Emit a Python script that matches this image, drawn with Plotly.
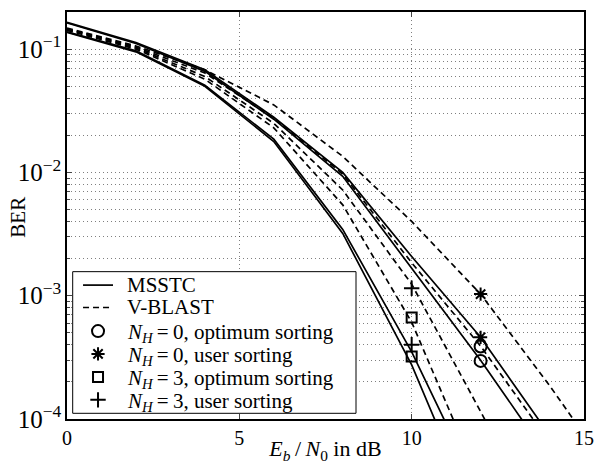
import plotly.graph_objects as go

# Eb/N0 grid (dB)
snr = [0, 2, 4, 6, 8, 10, 12, 14, 16]

# MSSTC (solid)
msstc_nh3_opt  = [0.137, 0.095, 0.050, 0.0178, 0.0032, 2.75e-4, 1.3e-5, None, None]
msstc_nh3_user = [0.138, 0.097, 0.051, 0.0186, 0.00345, 3.5e-4, 2.4e-5, None, None]
msstc_nh0_opt  = [0.163, 0.111, 0.066, 0.027, 0.0093, 1.67e-3, 3.0e-4, 4.7e-5, None]
msstc_nh0_user = [0.165, 0.113, 0.068, 0.028, 0.0100, 2.08e-3, 4.6e-4, 7.4e-5, None]

# V-BLAST (dashed)
vblast_nh3_opt  = [0.142, 0.100, 0.057, 0.023, 0.00546, 6.1e-4, 3.0e-5, None, None]
vblast_nh3_user = [0.145, 0.102, 0.060, 0.025, 0.0072, 1.24e-3, 1.15e-4, 1.0e-5, None]
vblast_nh0_opt  = [0.146, 0.104, 0.064, 0.0275, 0.0097, 1.85e-3, 3.9e-4, 6.5e-5, None]
vblast_nh0_user = [0.148, 0.106, 0.068, 0.0353, 0.0135, 4.0e-3, 1.03e-3, 1.87e-4, 3.0e-5]

# Marker points
circ_x, circ_y = [12, 12], [3.87e-4, 2.96e-4]
star_x, star_y = [12, 12], [1.03e-3, 4.6e-4]
sq_x, sq_y = [10, 10], [6.65e-4, 3.21e-4]
plus_x, plus_y = [10, 10], [1.15e-3, 4.0e-4]

# Legend labels
legend_labels = [
    "MSSTC",
    "V-BLAST",
    "<i>N<sub>H</sub></i>\u2009=\u20090, optimum sorting",
    "<i>N<sub>H</sub></i>\u2009=\u20090, user sorting",
    "<i>N<sub>H</sub></i>\u2009=\u20093, optimum sorting",
    "<i>N<sub>H</sub></i>\u2009=\u20093, user sorting",
]

FONT = "Liberation Serif"
fig = go.Figure()

solid = dict(color="black", width=1.7)
dashed = dict(color="black", width=1.7, dash="6px,4px")

for ys in [msstc_nh3_opt, msstc_nh3_user, msstc_nh0_opt, msstc_nh0_user]:
    fig.add_trace(go.Scatter(x=snr, y=ys, mode="lines", line=solid,
                             showlegend=False, connectgaps=False))
for ys in [vblast_nh3_opt, vblast_nh3_user, vblast_nh0_opt, vblast_nh0_user]:
    fig.add_trace(go.Scatter(x=snr, y=ys, mode="lines", line=dashed,
                             showlegend=False, connectgaps=False))

mk = dict(color="black", line=dict(color="black", width=2))
sym = [("circle-open", 12), ("asterisk-open", 11), ("square-open", 10), ("cross-thin-open", 11)]
for (s, sz), xs, ys in zip(sym, [circ_x, star_x, sq_x, plus_x], [circ_y, star_y, sq_y, plus_y]):
    fig.add_trace(go.Scatter(x=xs, y=ys, mode="markers",
                             marker=dict(symbol=s, size=sz, **mk), showlegend=False))

# ---- legend drawn on an overlay axis spanning the plot area (0..1) ----
box_x0, box_x1, box_y0, box_y1 = 0.011, 0.559, 0.014, 0.362
row_y = [0.329, 0.274, 0.216, 0.160, 0.103, 0.047]
samp_x0, samp_x1, mark_x, text_x = 0.031, 0.089, 0.060, 0.112

fig.add_trace(go.Scatter(x=[box_x0, box_x1, box_x1, box_x0, box_x0],
                         y=[box_y0, box_y0, box_y1, box_y1, box_y0],
                         mode="lines", fill="toself", fillcolor="white",
                         line=dict(color="black", width=1),
                         xaxis="x2", yaxis="y2", showlegend=False, hoverinfo="skip"))
fig.add_trace(go.Scatter(x=[samp_x0, samp_x1], y=[row_y[0]] * 2, mode="lines", line=solid,
                         xaxis="x2", yaxis="y2", showlegend=False, hoverinfo="skip"))
fig.add_trace(go.Scatter(x=[samp_x0, samp_x1], y=[row_y[1]] * 2, mode="lines", line=dashed,
                         xaxis="x2", yaxis="y2", showlegend=False, hoverinfo="skip"))
for (s, sz), ry in zip(sym, row_y[2:]):
    fig.add_trace(go.Scatter(x=[mark_x], y=[ry], mode="markers",
                             marker=dict(symbol=s, size=sz, **mk),
                             xaxis="x2", yaxis="y2", showlegend=False, hoverinfo="skip"))

annos = []
for i, (lab, ry) in enumerate(zip(legend_labels, row_y)):
    off = 0 if i < 2 else -2
    annos.append(dict(x=text_x, y=ry, xref="paper", yref="paper", text=lab,
                      showarrow=False, xanchor="left", yanchor="middle", yshift=off,
                      font=dict(family=FONT, size=21, color="black")))
# y-axis title placed explicitly
annos.append(dict(x=-0.0948, y=0.497, xref="paper", yref="paper", text="BER",
                  textangle=-90, showarrow=False, xanchor="center", yanchor="middle",
                  font=dict(family=FONT, size=21, color="black")))

GRIDC = "rgba(0,0,0,0.5)"
grid = dict(showgrid=True, gridcolor=GRIDC, griddash="1px,3px", gridwidth=1)

fig.update_layout(
    template="none",
    width=594, height=464,
    margin=dict(l=67, r=10, t=12, b=45, autoexpand=False),
    paper_bgcolor="white", plot_bgcolor="white",
    font=dict(family=FONT, size=20, color="black"),
    showlegend=False,
    annotations=annos,
    xaxis=dict(range=[0, 15], dtick=5, tick0=0, ticks="inside", ticklen=5,
               showline=True, linecolor="black", linewidth=1.5, mirror="ticks",
               zeroline=False, automargin=False,
               tickfont=dict(family=FONT, size=20),
               title=dict(text="<i>E<sub>b</sub></i>\u2009/\u2009<i>N</i><sub>0</sub> in dB",
                          font=dict(family=FONT, size=22), standoff=1),
               **grid),
    yaxis=dict(type="log", range=[-4, -0.699], dtick=1, exponentformat="power",
               ticks="inside", ticklen=5,
               showline=True, linecolor="black", linewidth=1.5, mirror="ticks",
               zeroline=False, automargin=False,
               tickfont=dict(family=FONT, size=20),
               minor=dict(dtick="D1", ticks="inside", ticklen=3,
                          showgrid=True, gridcolor=GRIDC,
                          griddash="1px,3px", gridwidth=1),
               **grid),
    xaxis2=dict(overlaying="x", anchor="y2", range=[0, 1], visible=False, fixedrange=True),
    yaxis2=dict(overlaying="y", anchor="x2", range=[0, 1], visible=False, fixedrange=True),
)

fig.write_html("out.html")
